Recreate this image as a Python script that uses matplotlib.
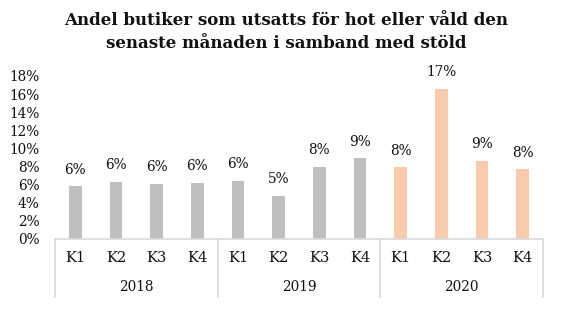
import numpy as np
import matplotlib.pyplot as plt
from matplotlib.transforms import blended_transform_factory

plt.rcParams['font.family'] = 'DejaVu Serif'

years = ["2018", "2019", "2020"]
quarters = ["K1", "K2", "K3", "K4"]
# andel per kvartal, i procent
andel_2018 = [5.8, 6.3, 6.1, 6.2]
andel_2019 = [6.4, 4.8, 8.0, 8.9]
andel_2020 = [7.9, 16.6, 8.6, 7.7]
yticks = [0, 2, 4, 6, 8, 10, 12, 14, 16, 18]

gray = "#BFBFBF"
peach = "#F8CBAD"
linecol = "#D9D9D9"

values = andel_2018 + andel_2019 + andel_2020
colors = [gray] * 8 + [peach] * 4
x = np.arange(len(values))

fig = plt.figure(figsize=(5.73, 3.24), dpi=100)
ax = fig.add_axes([55 / 573, 85 / 324, 488 / 573, 163 / 324])

ax.bar(x, values, width=0.31, color=colors)
for xi, v in zip(x, values):
    ax.annotate(f"{v:.0f}%", (xi, v), xytext=(0, 12), textcoords="offset points",
                ha="center", va="center", fontsize=9.8, color="#111111",
                annotation_clip=False)

ax.set_xlim(-0.5, len(values) - 0.5)
ax.set_ylim(0, 18)
ax.set_yticks(yticks)
ax.set_yticklabels([f"{t}%" for t in yticks], fontsize=9.8, color="#111111")
ax.tick_params(axis="y", length=0, pad=11)
ax.set_xticks([])

for s in ["top", "right", "left"]:
    ax.spines[s].set_visible(False)
ax.spines["bottom"].set_color(linecol)
ax.spines["bottom"].set_linewidth(1.2)

# tvånivåig kategoriaxel: kvartal och år
trans = blended_transform_factory(ax.transData, ax.transAxes)
axh = 163.0
for xi in x:
    ax.text(xi, -19 / axh, quarters[xi % 4], transform=trans, ha="center",
            va="center", fontsize=10.5, color="#111111")
for i, yr in enumerate(years):
    ax.text(i * 4 + 1.5, -48 / axh, yr, transform=trans, ha="center",
            va="center", fontsize=9.8, color="#111111")
for b in [-0.5, 3.5, 7.5, 11.5]:
    ax.plot([b, b], [0, -58 / axh], transform=trans, color=linecol,
            lw=1.2, clip_on=False)

fig.text(0.5, 1 - 32 / 324, "Andel butiker som utsatts för hot eller våld den\nsenaste månaden i samband med stöld",
         ha="center", va="center", fontsize=12, fontweight="bold",
         color="#111111", linespacing=1.45)

fig.savefig("out.png", dpi=100)
